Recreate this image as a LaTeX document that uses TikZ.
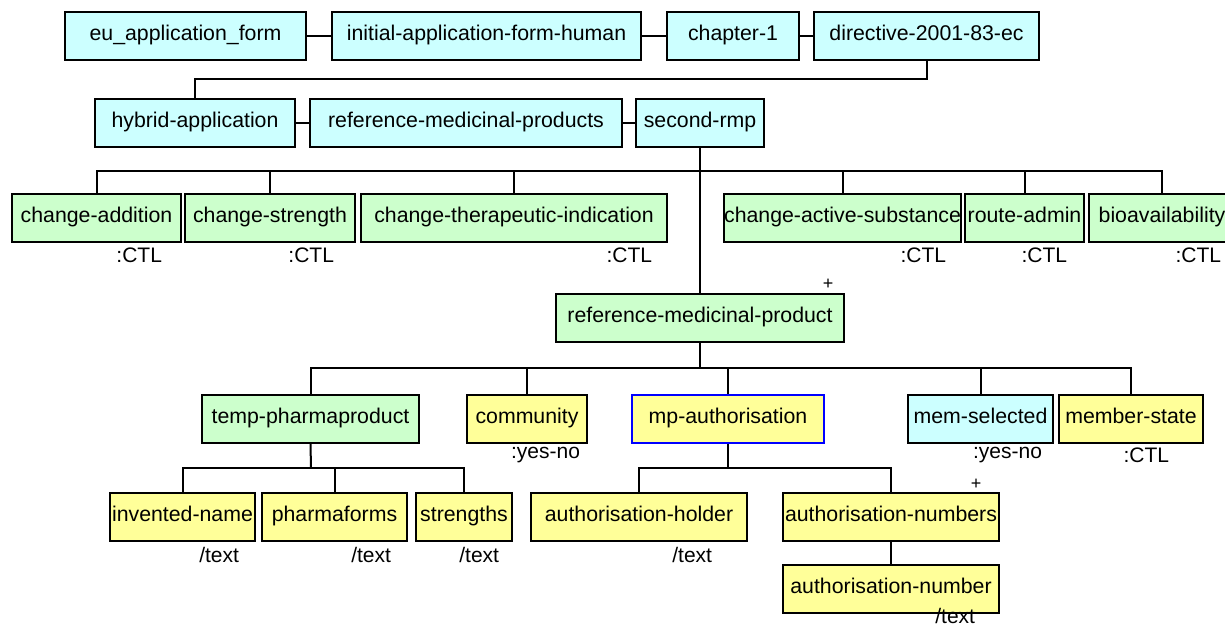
\documentclass[tikz,border=0pt]{standalone}
\usepackage{fontspec}
\setmainfont{Liberation Sans}
\usepackage{tikz}
\definecolor{formcyan}{HTML}{CCFFFF}
\definecolor{formgreen}{HTML}{CCFFCC}
\definecolor{formyellow}{HTML}{FFFF99}
\definecolor{formblue}{HTML}{0000FF}

\begin{document}
\begin{tikzpicture}[x=1pt, y=-1pt, line width=2pt,
  item/.style={rectangle, draw=black, line width=2pt, inner sep=0pt, minimum height=48pt, text height=14pt, text depth=5pt, font=\fontsize{21.3}{25}\selectfont},
  cyanitem/.style={item, fill=formcyan},
  greenitem/.style={item, fill=formgreen},
  yellowitem/.style={item, fill=formyellow},
  typetag/.style={anchor=base east, inner sep=0pt, font=\fontsize{21}{25}\selectfont},
  multi/.style={inner sep=0pt, font=\fontsize{18}{20}\selectfont}]

  \useasboundingbox (0,0) rectangle (1225,628);

  \node [cyanitem, minimum width=241pt] (euform) at (185.5,36.5) {eu\_application\_form};
  \node [cyanitem, minimum width=309pt] (initform) at (486.5,36.5) {initial-application-form-human};
  \node [cyanitem, minimum width=132pt] (chapter) at (733,36.5) {chapter-1};
  \node [cyanitem, minimum width=225pt] (directive) at (926.5,36.5) {directive-2001-83-ec};

  \node [cyanitem, minimum width=200pt] (hybrid) at (195,123) {hybrid-application};
  \node [cyanitem, minimum width=312pt] (refprods) at (466,123) {reference-medicinal-products};
  \node [cyanitem, minimum width=128pt] (secondrmp) at (700,123) {second-rmp};

  \node [greenitem, minimum width=169pt] (cadd) at (96.5,218) {change-addition};
  \node [greenitem, minimum width=170pt] (cstrength) at (270,218) {change-strength};
  \node [greenitem, minimum width=306pt] (ctherapy) at (514,218) {change-therapeutic-indication};
  \node [greenitem, minimum width=237pt] (cactive) at (842.5,218) {change-active-substance};
  \node [greenitem, minimum width=119pt] (route) at (1024.5,218) {route-admin};
  \node [greenitem, minimum width=146pt] (bioavail) at (1162,218) {bioavailability};

  \node [typetag] (caddtype) at (163,262) {:CTL};
  \node [typetag] (cstrengthtype) at (335,262) {:CTL};
  \node [typetag] (ctherapytype) at (653,262) {:CTL};
  \node [typetag] (cactivetype) at (947,262) {:CTL};
  \node [typetag] (routetype) at (1068,262) {:CTL};
  \node [typetag] (bioavailtype) at (1222,262) {:CTL};

  \node [greenitem, minimum width=288pt] (refprod) at (700,317.5) {reference-medicinal-product};
  \node [multi] (refprodmulti) at (828,284) {+};

  \node [greenitem, minimum width=217pt] (pharmaprod) at (310.5,419) {temp-pharmaproduct};
  \node [yellowitem, minimum width=120pt] (community) at (527,419) {community};
  \node [yellowitem, draw=formblue, minimum width=192pt] (mpauth) at (728,419) {mp-authorisation};
  \node [cyanitem, minimum width=145pt] (memselected) at (980.5,419) {mem-selected};
  \node [yellowitem, minimum width=144pt] (memberstate) at (1131,419) {member-state};

  \node [typetag] (communitytype) at (581,458) {:yes-no};
  \node [typetag] (memselectedtype) at (1043,458) {:yes-no};
  \node [typetag] (memberstatetype) at (1170,462) {:CTL};

  \node [yellowitem, minimum width=145pt] (invname) at (182.5,516.5) {invented-name};
  \node [yellowitem, minimum width=145pt] (pharmaforms) at (334.5,516.5) {pharmaforms};
  \node [yellowitem, minimum width=96pt] (strengths) at (464,516.5) {strengths};
  \node [yellowitem, minimum width=216pt] (authholder) at (639,516.5) {authorisation-holder};
  \node [yellowitem, minimum width=216pt] (authnumbers) at (891,516.5) {authorisation-numbers};
  \node [multi] (authnumbersmulti) at (976,484) {+};
  \node [yellowitem, minimum width=216pt] (authnumber) at (891,588.5) {authorisation-number};

  \node [typetag] (invnametype) at (240,562) {/text};
  \node [typetag] (pharmaformstype) at (392,562) {/text};
  \node [typetag] (strengthstype) at (500,562) {/text};
  \node [typetag] (authholdertype) at (713,562) {/text};
  \node [typetag] (authnumbertype) at (976,623) {/text};

  \coordinate (rmpbus) at (700,171);
  \coordinate (refprodbus) at (700,368);
  \coordinate (pharmabus) at (311,468);
  \coordinate (authbus) at (728,468);

  \draw (euform) -- (initform);
  \draw (initform) -- (chapter);
  \draw (chapter) -- (directive);
  \draw (directive.south) -- ++(0,18) -| (hybrid.north);
  \draw (hybrid) -- (refprods);
  \draw (refprods) -- (secondrmp);
  \draw (secondrmp.south) -- (refprod.north);
  \foreach \child in {cadd, cstrength, ctherapy, cactive, route, bioavail}
    \draw (rmpbus) -| (\child.north);
  \draw (refprod.south) -- (refprodbus);
  \foreach \child in {pharmaprod, community, mpauth, memselected, memberstate}
    \draw (refprodbus) -| (\child.north);
  \draw (pharmaprod.south) -- (pharmabus);
  \foreach \child in {invname, pharmaforms, strengths}
    \draw (pharmabus) -| (\child.north);
  \draw (mpauth.south) -- (authbus);
  \foreach \child in {authholder, authnumbers}
    \draw (authbus) -| (\child.north);
  \draw (authnumbers) -- (authnumber);
\end{tikzpicture}
\end{document}
